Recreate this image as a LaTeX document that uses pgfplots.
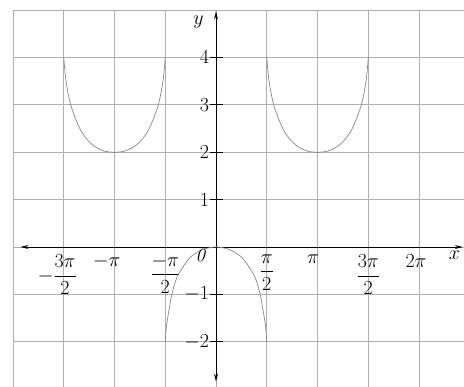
\RequirePackage{fix-cm}
\documentclass[border=0pt]{standalone}
\usepackage{amsmath}
\usepackage{pgfplots}
\pgfplotsset{compat=1.18}
\usetikzlibrary{arrows.meta}

\definecolor{curvegray}{RGB}{135,135,135}
\definecolor{gridgray}{RGB}{175,175,175}

\begin{document}
\begin{tikzpicture}
\useasboundingbox (-13pt,0pt) rectangle (451pt,387pt);
\begin{axis}[
  at={(0pt,0pt)}, anchor=south west,
  scale only axis, width=451pt, height=377pt,
  xmin=-6.2832, xmax=7.675, ymin=-2.954, ymax=5,
  axis lines=middle, axis line style={draw=none},
  xtick={-4.7124,-3.1416,-1.5708,1.5708,3.1416,4.7124,6.2832},
  xticklabels={\makebox[52pt][l]{$-\dfrac{3\pi}{2}$},\makebox[43pt][l]{$-\pi$},$\dfrac{-\pi}{2}$,$\dfrac{\pi}{2}$,\makebox[21pt][l]{$\pi$},$\dfrac{3\pi}{2}$,\makebox[27pt][l]{$2\pi$}},
  extra x ticks={-6.2832,0}, extra x tick labels={},
  extra x tick style={major tick length=0pt},
  ytick={-2,-1,1,2,3,4},
  extra y ticks={0,5}, extra y tick labels={},
  extra y tick style={major tick length=0pt},
  grid=major,
  major grid style={gridgray, line width=0.7pt},
  tick align=center, major tick length=13pt,
  xtick style={draw=none},
  ytick style={black, line width=0.6pt},
  tick label style={font=\fontsize{20}{23}\selectfont},
  xticklabel style={anchor=north, yshift=0pt, inner sep=1pt},
  yticklabel style={anchor=east, xshift=3pt},
  clip=true,
]
% coordinate axes with arrowheads at both ends
\draw[black, line width=0.8pt, {Stealth[length=8pt,width=4pt]}-{Stealth[length=8pt,width=4pt]}]
  (axis cs:-6.05,0) -- (axis cs:7.64,0);
\draw[black, line width=0.8pt, {Stealth[length=8pt,width=4pt]}-{Stealth[length=8pt,width=4pt]}]
  (axis cs:0,-2.84) -- (axis cs:0,4.97);

% branch over [-3pi/2, -pi/2]
\addplot[curvegray, line width=0.7pt, smooth, tension=0.5] coordinates {
  (-4.712,4) (-4.659,3.58) (-4.575,3.23) (-4.493,2.985) (-4.367,2.74)
  (-4.210,2.49) (-4.006,2.28) (-3.755,2.12) (-3.440,2.02) (-3.142,2)
  (-2.844,2.02) (-2.529,2.12) (-2.278,2.28) (-2.074,2.49) (-1.917,2.74)
  (-1.791,2.985) (-1.709,3.23) (-1.625,3.58) (-1.571,4)
};
% branch over [-pi/2, pi/2]
\addplot[curvegray, line width=0.7pt, smooth, tension=0.5] coordinates {
  (-1.571,-2) (-1.539,-1.7) (-1.461,-1.35) (-1.367,-1.0) (-1.210,-0.64)
  (-0.990,-0.39) (-0.785,-0.21) (-0.471,-0.07) (-0.236,-0.02) (0,0)
  (0.236,-0.02) (0.471,-0.07) (0.785,-0.21) (0.990,-0.39) (1.210,-0.64)
  (1.367,-1.0) (1.461,-1.35) (1.539,-1.7) (1.571,-2)
};
% branch over [pi/2, 3pi/2]
\addplot[curvegray, line width=0.7pt, smooth, tension=0.5] coordinates {
  (1.571,4) (1.625,3.58) (1.709,3.23) (1.791,2.985) (1.917,2.74)
  (2.074,2.49) (2.278,2.28) (2.529,2.12) (2.844,2.02) (3.142,2)
  (3.440,2.02) (3.755,2.12) (4.006,2.28) (4.210,2.49) (4.367,2.74)
  (4.493,2.985) (4.575,3.23) (4.659,3.58) (4.712,4)
};

\node[font=\fontsize{20}{23}\selectfont] at (axis cs:-0.54,4.74) {$y$};
\node[font=\fontsize{20}{23}\selectfont] at (axis cs:7.38,-0.17) {$x$};
\node[font=\fontsize{19}{22}\selectfont] at (axis cs:-0.47,-0.17) {\textit{0}};
\end{axis}
\end{tikzpicture}
\end{document}
